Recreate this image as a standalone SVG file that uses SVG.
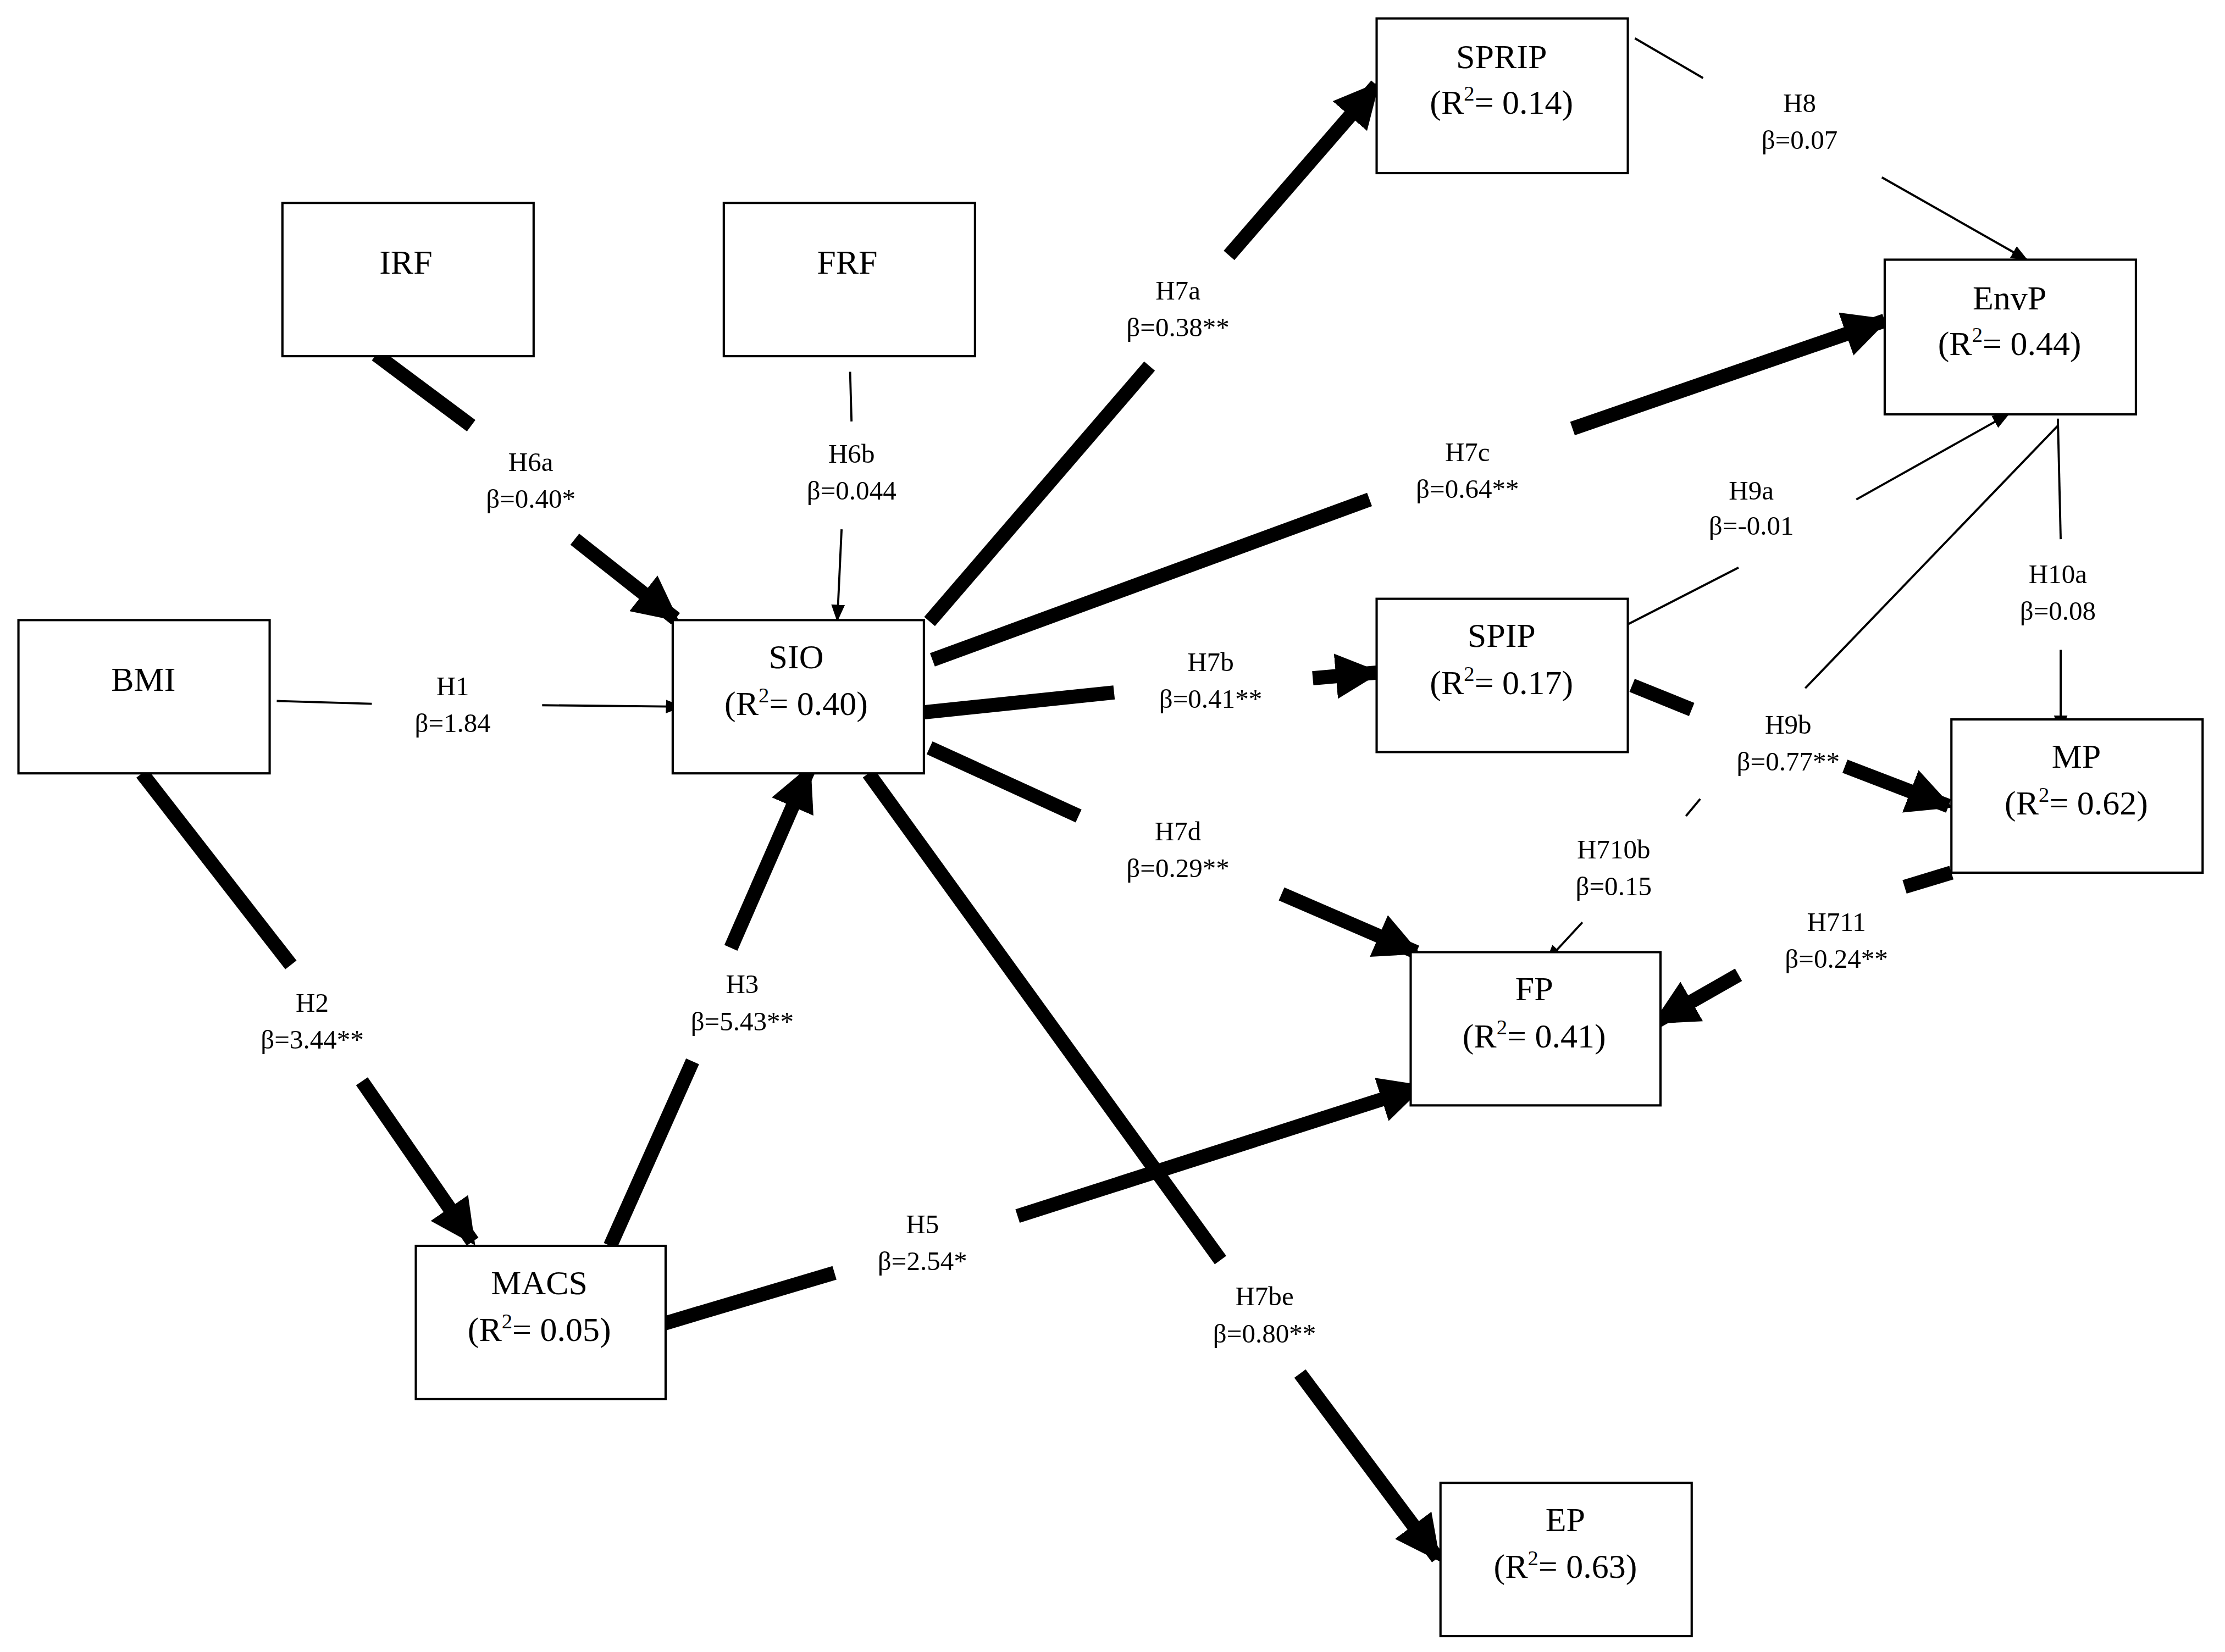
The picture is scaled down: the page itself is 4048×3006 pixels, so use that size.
<svg xmlns="http://www.w3.org/2000/svg" width="4048" height="3006" viewBox="0 0 4048 3006">
<defs>
<style>
.n{fill:#fff;stroke:#000;stroke-width:1.6}
.t{font-family:"Liberation Serif",serif;font-size:24px;text-anchor:middle}
.l{font-family:"Liberation Serif",serif;font-size:19px;text-anchor:middle}
.k{stroke:#000;stroke-width:10;fill:none}
.h{stroke:#000;stroke-width:1.5;fill:none}
</style>
<marker id="ak" viewBox="0 0 10 10" refX="9" refY="5" markerWidth="3.2" markerHeight="3.2" orient="auto"><path d="M0,0L10,5L0,10z"/></marker>
<marker id="ah" viewBox="0 0 10 10" refX="9" refY="5" markerWidth="8" markerHeight="8" orient="auto"><path d="M0,1L10,5L0,9z"/></marker>
</defs>
<rect width="4048" height="3006" fill="#fff"/>
<g transform="scale(2.582)">
<g id="connectors">
<path class="k" d="M265,250L332,300"/><path class="k" d="M405,380L476,436" marker-end="url(#ak)"/>
<path class="h" d="M599,262L600,297"/><path class="h" d="M593,373L590,437" marker-end="url(#ah)"/>
<path class="h" d="M195,494L262,496"/><path class="h" d="M382,497L480,498" marker-end="url(#ah)"/>
<path class="k" d="M100,545L205,680"/><path class="k" d="M255,762L333,875" marker-end="url(#ak)"/>
<path class="k" d="M430,878L488,748"/><path class="k" d="M515,668L570,542" marker-end="url(#ak)"/>
<path class="k" d="M467,933L588,897"/><path class="k" d="M717,857L1001,766" marker-end="url(#ak)"/>
<path class="k" d="M655,438L810,258"/><path class="k" d="M866,180L970,60" marker-end="url(#ak)"/>
<path class="k" d="M657,465L965,352"/><path class="k" d="M1108,302L1328,226" marker-end="url(#ak)"/>
<path class="k" d="M651,502L785,488"/><path class="k" d="M925,478L970,474" marker-end="url(#ak)"/>
<path class="k" d="M655,527L760,575"/><path class="k" d="M903,630L998,671" marker-end="url(#ak)"/>
<path class="k" d="M612,545L860,888"/><path class="k" d="M916,968L1013,1098" marker-end="url(#ak)"/>
<path class="h" d="M1152,27L1200,55"/><path class="h" d="M1326,125L1428,183" marker-end="url(#ah)"/>
<path class="h" d="M1147,440L1225,400"/><path class="h" d="M1308,352L1415,292" marker-end="url(#ah)"/>
<path class="k" d="M1150,483L1192,500"/><path class="k" d="M1300,540L1373,568" marker-end="url(#ak)"/>
<path class="h" d="M1188,575L1198,563"/><path class="h" d="M1272,485L1450,300"/>
<path class="h" d="M1450,295L1452,380"/><path class="h" d="M1452,458L1452,515" marker-end="url(#ah)"/>
<path class="h" d="M1115,650L1090,677" marker-end="url(#ah)"/>
<path class="k" d="M1375,615L1342,625"/><path class="k" d="M1225,687L1167,720" marker-end="url(#ak)"/>
</g>
<g id="labels">
<text class="l" x="374" y="332">H6a</text><text class="l" x="374" y="358">β=0.40*</text>
<text class="l" x="600" y="326">H6b</text><text class="l" x="600" y="352">β=0.044</text>
<text class="l" x="319" y="490">H1</text><text class="l" x="319" y="516">β=1.84</text>
<text class="l" x="220" y="713">H2</text><text class="l" x="220" y="739">β=3.44**</text>
<text class="l" x="523" y="700">H3</text><text class="l" x="523" y="726">β=5.43**</text>
<text class="l" x="650" y="869">H5</text><text class="l" x="650" y="895">β=2.54*</text>
<text class="l" x="830" y="211">H7a</text><text class="l" x="830" y="237">β=0.38**</text>
<text class="l" x="1034" y="325">H7c</text><text class="l" x="1034" y="351">β=0.64**</text>
<text class="l" x="853" y="473">H7b</text><text class="l" x="853" y="499">β=0.41**</text>
<text class="l" x="830" y="592">H7d</text><text class="l" x="830" y="618">β=0.29**</text>
<text class="l" x="891" y="920">H7be</text><text class="l" x="891" y="946">β=0.80**</text>
<text class="l" x="1268" y="79">H8</text><text class="l" x="1268" y="105">β=0.07</text>
<text class="l" x="1234" y="352">H9a</text><text class="l" x="1234" y="377">β=-0.01</text>
<text class="l" x="1260" y="517">H9b</text><text class="l" x="1260" y="543">β=0.77**</text>
<text class="l" x="1450" y="411">H10a</text><text class="l" x="1450" y="437">β=0.08</text>
<text class="l" x="1137" y="605">H710b</text><text class="l" x="1137" y="631">β=0.15</text>
<text class="l" x="1294" y="656">H711</text><text class="l" x="1294" y="682">β=0.24**</text>
</g>
<g id="SPRIP"><rect class="n" x="970" y="13" width="177" height="109"/><text class="t" x="1058" y="48">SPRIP</text><text class="t" x="1058" y="80">(R<tspan font-size="15" dy="-9">2</tspan><tspan dy="9">= 0.14)</tspan></text></g>
<g id="IRF"><rect class="n" x="199" y="143" width="177" height="108"/><text class="t" x="286" y="193">IRF</text></g>
<g id="FRF"><rect class="n" x="510" y="143" width="177" height="108"/><text class="t" x="597" y="193">FRF</text></g>
<g id="EnvP"><rect class="n" x="1328" y="183" width="177" height="109"/><text class="t" x="1416" y="218">EnvP</text><text class="t" x="1416" y="250">(R<tspan font-size="15" dy="-9">2</tspan><tspan dy="9">= 0.44)</tspan></text></g>
<g id="BMI"><rect class="n" x="13" y="437" width="177" height="108"/><text class="t" x="101" y="487">BMI</text></g>
<g id="SIO"><rect class="n" x="474" y="437" width="177" height="108"/><text class="t" x="561" y="471">SIO</text><text class="t" x="561" y="504">(R<tspan font-size="15" dy="-9">2</tspan><tspan dy="9">= 0.40)</tspan></text></g>
<g id="SPIP"><rect class="n" x="970" y="422" width="177" height="108"/><text class="t" x="1058" y="456">SPIP</text><text class="t" x="1058" y="489">(R<tspan font-size="15" dy="-9">2</tspan><tspan dy="9">= 0.17)</tspan></text></g>
<g id="MP"><rect class="n" x="1375" y="507" width="177" height="108"/><text class="t" x="1463" y="541">MP</text><text class="t" x="1463" y="574">(R<tspan font-size="15" dy="-9">2</tspan><tspan dy="9">= 0.62)</tspan></text></g>
<g id="FP"><rect class="n" x="994" y="671" width="176" height="108"/><text class="t" x="1081" y="705">FP</text><text class="t" x="1081" y="738">(R<tspan font-size="15" dy="-9">2</tspan><tspan dy="9">= 0.41)</tspan></text></g>
<g id="MACS"><rect class="n" x="293" y="878" width="176" height="108"/><text class="t" x="380" y="912">MACS</text><text class="t" x="380" y="945">(R<tspan font-size="15" dy="-9">2</tspan><tspan dy="9">= 0.05)</tspan></text></g>
<g id="EP"><rect class="n" x="1015" y="1045" width="177" height="108"/><text class="t" x="1103" y="1079">EP</text><text class="t" x="1103" y="1112">(R<tspan font-size="15" dy="-9">2</tspan><tspan dy="9">= 0.63)</tspan></text></g>
</g>
</svg>
